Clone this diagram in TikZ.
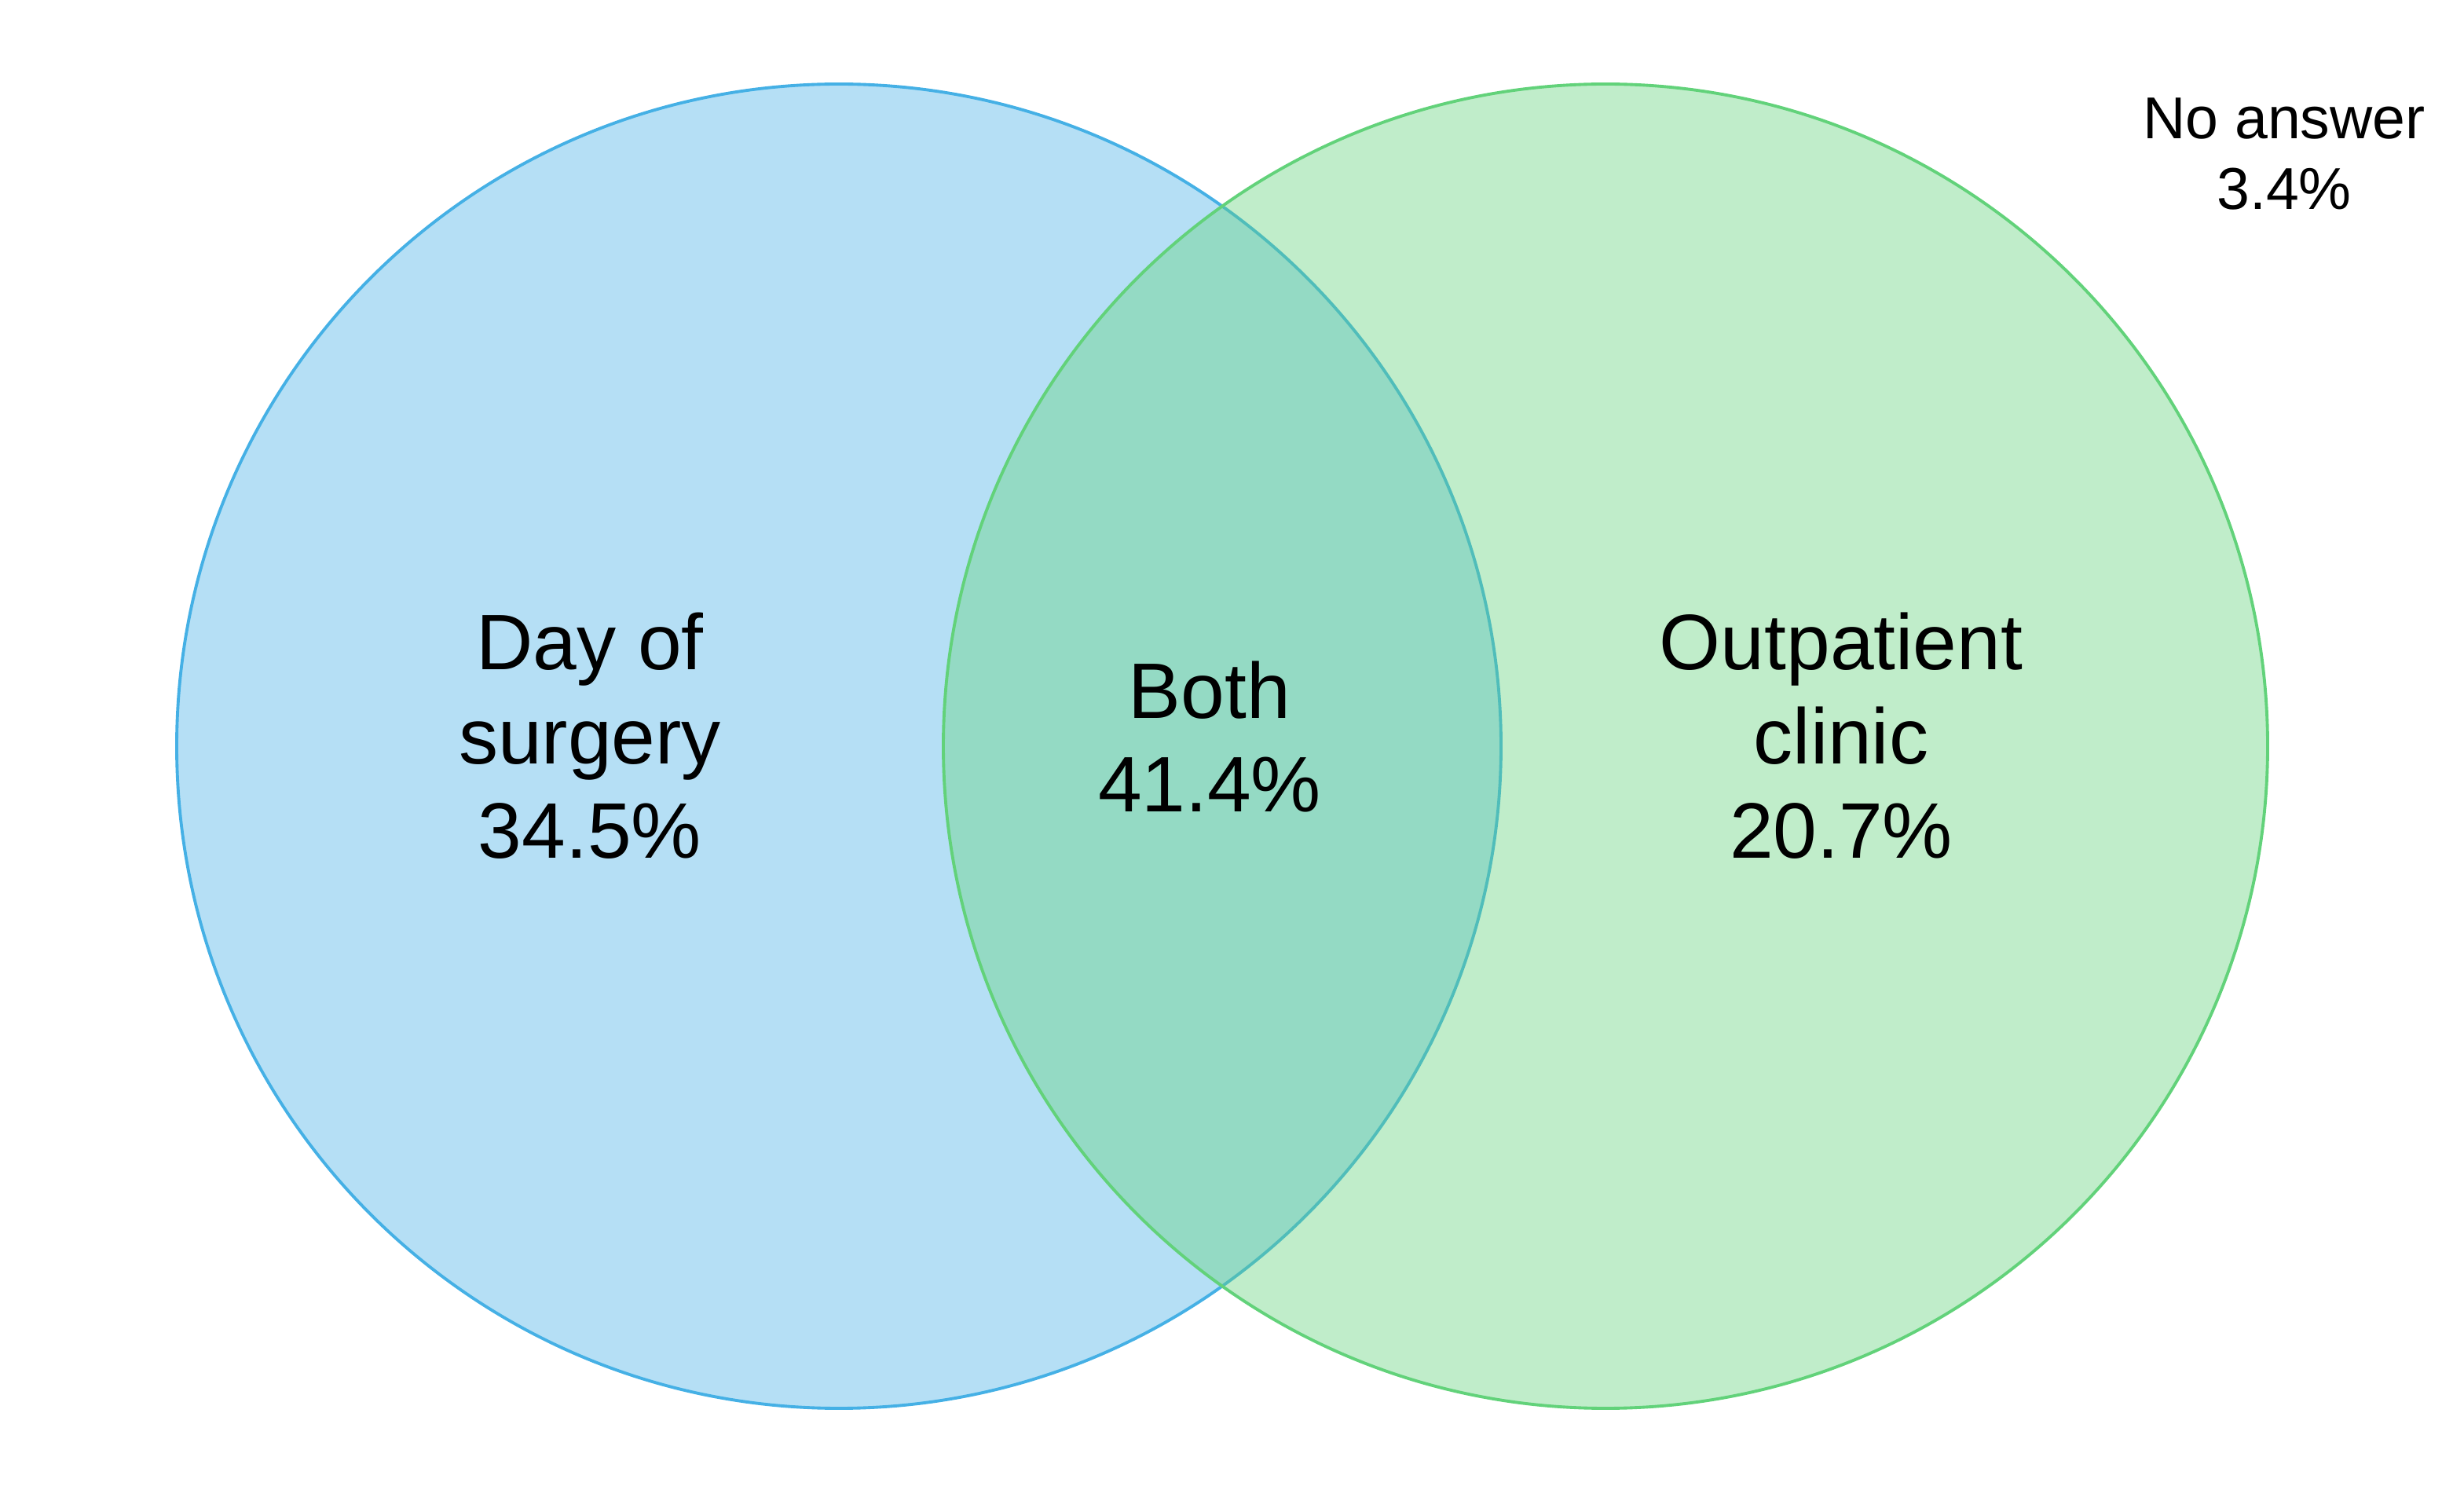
\documentclass[tikz,border=0pt]{standalone}
\usepackage{fontspec}
\setmainfont{Liberation Sans}
\definecolor{setblue}{RGB}{69,176,229}
\definecolor{setgreen}{RGB}{98,210,122}
\begin{document}
\begin{tikzpicture}[
            set/.style={line width=1.1pt, fill opacity=0.4},
            biglabel/.style={align=center, inner sep=0pt, font=\fontsize{28.5}{34.1}\selectfont},
            smalllabel/.style={align=center, inner sep=0pt, font=\fontsize{21.4}{25.6}\selectfont}
        ]
            \useasboundingbox (0,0) rectangle (31.37,19.10);
            \draw[set, draw=setblue, fill=setblue] (10.68,9.60) circle (8.43);
            \draw[set, draw=setgreen, fill=setgreen] (20.44,9.60) circle (8.43);
            \node[biglabel] (dos) at (7.51, 9.73) {Day of\\surgery\\34.5\%};
            \node[biglabel] (both) at (15.40, 9.72) {Both\\41.4\%};
            \node[biglabel] (opc) at (23.44, 9.73) {Outpatient\\clinic\\20.7\%};
            \node[smalllabel] (noans) at (29.08, 17.14) {No answer\\3.4\%};
        \end{tikzpicture}
\end{document}
